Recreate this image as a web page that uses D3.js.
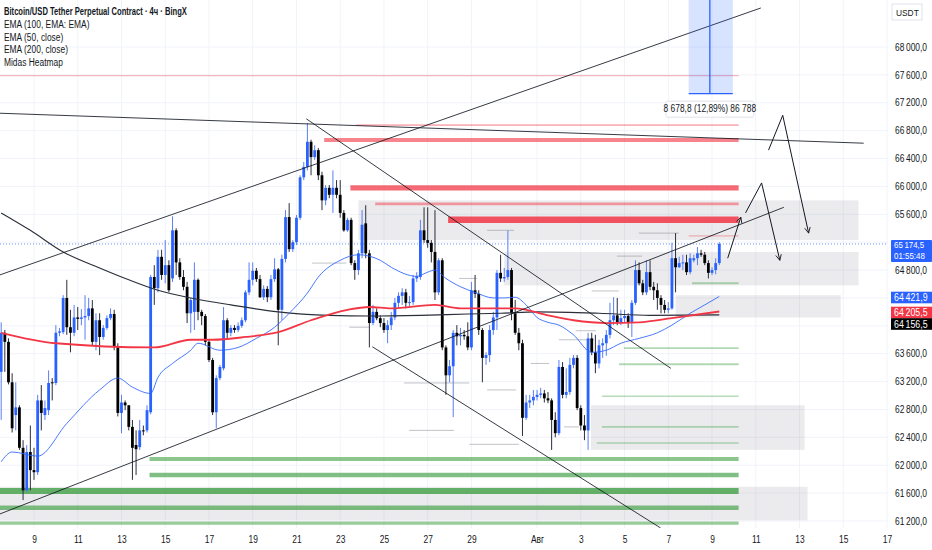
<!DOCTYPE html>
<html><head><meta charset="utf-8">
<script src="https://cdn.jsdelivr.net/npm/d3@7"></script>
<style>
html,body{margin:0;padding:0;background:#fff;overflow:hidden;}
svg{display:block;font-family:"Liberation Sans","DejaVu Sans",sans-serif;}
</style></head><body>
<svg id="chart" width="932" height="550"></svg>
<script>
// ---------------- DATA ----------------
const firstCandle = Date.UTC(2024, 6, 7, 12); // 4h candles
const candleHours = 4;
// [open, high, low, close]
const ohlc = [
[63340,64050,62650,63900],[63900,63940,63340,63770],[63770,63820,63160,63190],[63190,63320,62470,62530],
[62720,63190,62500,62830],[62830,62860,62220,62250],[62250,62360,61500,61640],[61640,62290,61610,62190],
[62190,62570,61640,61930],[61930,62250,61790,61900],[61900,63010,61860,62930],[62930,63150,62500,62750],
[62720,62930,62650,62820],[62790,63360,62720,63180],[63190,63250,62930,63180],[63180,64010,63150,63900],
[63900,63970,63850,63920],[63910,64440,63880,64400],[64400,64660,63870,63980],[63980,64230,63620,63900],
[63900,64300,63850,64120],[64120,64270,63940,64100],[64100,64240,64010,64120],[64120,64440,63800,64140],
[64140,64400,64080,64250],[64250,64370,63720,63770],[63770,64180,63650,64080],[64080,64180,63580,63840],
[63840,64010,63800,63970],[63970,64150,63940,64110],[64110,64250,64080,64170],[64170,64230,63650,63710],
[63710,63750,62700,62750],[62750,63010,62460,62900],[62900,62930,62790,62860],[62860,62860,62500,62550],
[62550,62650,61790,62250],[62290,62500,61860,62230],[62260,62650,62220,62500],[62500,62570,62430,62490],
[62500,62860,62470,62790],[62760,64730,62730,64700],[64700,64870,64300,64540],[64540,65090,64480,64990],
[64990,65090,64660,64730],[64730,65230,64610,64870],[64870,64940,64480,64510],[64680,65570,64630,65370],
[65370,65400,64730,64910],[64910,64970,64660,64700],[64700,64800,64510,64560],[64560,64630,64040,64180],
[64180,64400,63900,64370],[64200,64910,63940,64660],[64660,64680,64080,64200],[64200,64230,64010,64140],
[64140,64170,63720,63770],[63770,63800,63480,63510],[63510,63540,62720,62760],[62760,63290,62530,63250],
[63250,63440,63220,63410],[63390,64270,63360,64080],[64080,64110,63800,63900],[63900,64010,63850,63970],
[63970,64010,63900,63940],[63940,64050,63910,64000],[64000,64120,63970,64080],[64080,64510,64050,64480],
[64480,64910,64440,64660],[64660,64910,64580,64790],[64790,64830,64630,64670],[64670,64730,64400,64410],
[64410,64580,64370,64530],[64530,64570,64340,64410],[64410,64730,64370,64670],[64670,64970,64630,64810],
[64810,64830,63720,64230],[64230,65020,64080,64960],[64960,65660,64910,65560],[65560,65760,65060,65100],
[65100,65230,65060,65200],[65200,65590,65160,65550],[65550,66160,65520,66130],[66130,66350,66090,66280],
[66280,66910,66230,66640],[66640,66670,66160,66420],[66420,66590,66380,66520],[66520,66550,66090,66160],
[66160,66210,65660,65800],[65800,66020,65730,65980],[65980,66020,65830,65880],[65880,66230,65620,65980],
[65980,66090,65830,65880],[65880,66090,65550,65620],[65620,65660,65350,65370],[65370,65550,65350,65520],
[65520,65550,64870,64900],[64900,64940,64660,64800],[64800,65090,64730,65040],[65040,65660,64970,65450],
[65470,65730,64970,65040],[65040,65090,63690,64040],[64040,64300,64010,64200],[64200,64250,64080,64110],
[64110,64150,63980,64040],[64040,64110,63900,63940],[63940,64080,63750,64010],[64010,64200,63940,64120],
[64120,64400,64080,64330],[64330,64480,64250,64430],[64430,64540,64300,64480],[64480,64530,64250,64330],
[64330,64430,64280,64340],[64340,64730,64300,64680],[64680,64770,64630,64710],[64700,65520,64660,65370],
[65370,65700,65190,65230],[65230,65700,65120,65190],[65190,65230,64910,65060],[65060,65660,64370,64480],
[64480,64970,64440,64940],[64940,64970,63650,63690],[63690,63720,63010,63290],[63290,63510,63190,63420],
[63420,63940,62690,63900],[63900,64010,63720,63850],[63850,63970,63720,63870],[63870,63940,63800,63850],
[63850,64050,63650,63690],[63690,64630,63650,64510],[64510,64730,64400,64460],[64460,64510,63870,63940],
[63940,63970,63190,63540],[63540,63620,63440,63580],[63580,64010,63480,63940],[63940,64200,63870,64120],
[64120,64800,63940,64760],[64760,65020,64630,64680],[64680,64830,64630,64700],[64700,65370,64660,64800],
[64800,64830,64080,64180],[64180,64370,63870,63900],[63900,63970,63650,63750],[63750,63800,62420,62680],
[62680,63010,62650,62900],[62900,63010,62820,62930],[62930,63080,62860,62980],[62980,63080,62930,63010],
[63010,63110,62960,63030],[63030,63080,62900,62960],[62960,63050,62890,62930],[62930,62960,62220,62650],
[62650,62760,62400,62460],[62460,63510,62430,63410],[63410,63480,62960,63010],[63010,63390,62960,63050],
[63050,63540,63010,63440],[63440,63580,63390,63540],[63540,63580,62790,62820],[62820,62860,62500,62570],
[62570,62720,62360,62500],[62500,63900,62220,63820],[63820,63900,63580,63620],[63620,63870,63320,63460],
[63460,63800,63390,63720],[63720,63820,63540,63750],[63750,63940,63570,63870],[63870,64330,63820,64080],
[64080,64410,64010,64150],[64150,64400,64010,64050],[64050,64230,64010,64110],[64110,64230,64050,64140],
[64140,64180,63970,64040],[64040,64370,63840,64330],[64330,64940,64300,64800],[64800,64910,64580,64610],
[64610,64660,64440,64480],[64480,64940,64440,64770],[64770,64940,64510,64560],[64560,64630,64370,64510],
[64510,64610,64230,64400],[64400,64440,64180,64300],[64300,64370,64180,64230],[64230,64340,64180,64250],
[64250,65190,64230,64970],[64970,65330,64480,64840],[64840,64990,64830,64900],[64900,65020,64800,64910],
[64910,65020,64730,64770],[64770,65040,64740,64970],[64940,65020,64910,64970],[64970,65130,64870,65040],
[65040,65090,64990,65020],[65020,65060,64870,64900],[64900,64940,64680,64760],[64760,64840,64730,64800],
[64800,64970,64740,64900],[64900,65200,64870,65174.5]
];
// EMA readings [candle index, value]
const ema50 = [[0,62050],[3,62190],[10,62130],[18,62600],[27,63080],[32,63250],[36,63120],[41,63030],[43,63260],
[47,63460],[52,63650],[54,63750],[60,63650],[65,63690],[70,63820],[75,63980],[79,64180],[84,64470],[87,64700],
[93,64940],[98,65020],[104,64940],[107,64840],[114,64710],[117,64770],[119,64800],[122,64680],[126,64560],
[130,64480],[135,64400],[138,64400],[141,64410],[144,64300],[147,64120],[150,64050],[153,64010],[157,63870],
[162,63620],[166,63650],[170,63750],[175,63820],[180,63900],[184,64010],[189,64180],[193,64300],[197,64421.9]];
const ema100 = [[0,65620],[8,65370],[17,65060],[27,64830],[35,64660],[43,64510],[52,64400],[63,64300],
[76,64200],[90,64150],[101,64140],[115,64150],[128,64170],[137,64180],[147,64200],[164,64180],[178,64150],[197,64156.5]];
const ema200 = [[0,63900],[15,63750],[42,63690],[52,63800],[58,63800],[67,63840],[76,63910],[85,64080],
[95,64230],[101,64270],[107,64250],[119,64300],[126,64250],[135,64250],[141,64250],[150,64150],[157,64080],
[166,64040],[175,64050],[184,64110],[197,64205.5]];
const lastPrice = 65174.5;
const countdown = "01:55:48";
// Midas heatmap levels [price, from candle index, strength]
const heatmapEnd = 202.3;
const redLevels = [[67590,-1,1],[66880,97.4,1.3],[66665,88.6,3],[65980,95.8,4],[65750,102.6,2],[65520,122.6,5],[65290,188.6,1]];
const greenLevels = [[64610,189.5,1.5],[63680,170.8,1.5],[63450,169.5,1.5],[62990,164.8,1.2],[62550,164.8,1.2],
[62320,163.4,1.2],[62090,40.7,3],[61860,40.7,3.5],[61630,-1,4.5],[61390,-1,3.5],[61170,-1,2.5]];
// zones [price top, price bottom, from index, to index]
const zones = [[65800,65230,98,235.2],[65060,64580,138,235.2],[64440,64120,185,230.3],[62860,62220,161.8,220.4],[61690,61210,-1,221.2]];
// thin liquidity lines [price, from, to]
const thinLines = [[65330,174.9,185.9],[65370,133.3,140.7],[64680,125.6,130.5],[64900,85.3,94.7],[63980,95.5,101],
[63460,145.3,150.3],[63080,133.3,141.2],[65000,168.9,175.8],[64500,162,169.4],[63800,153,162.6],
[63180,110.5,128.4],[62500,111.9,124.2],[62300,128.4,142],[63930,157.6,163.2],[62550,154.4,158.5]];
// trend lines [[index, price],[index, price]]
const trendLines = [
  [[-0.4,64730],[208.4,68560]],
  [[-0.4,67050],[236.6,66620]],
  [[83.7,66970],[183.7,63390]],
  [[101.8,63700],[180.9,61100]],
  [[-0.4,61300],[214.7,65700]]
];
// forecast arrows (polylines)
const arrows = [
  [[199.3,64970],[202.9,65560]],
  [[204.2,65620],[208.6,66050],[213.6,64940]],
  [[210.5,66520],[214.4,67020],[221.5,65330]]
];
const measure = {from:188.6, to:200.7, mid:194.4, low:67330, high:76000, label:"8 678,8 (12,89%) 86 788"};
const yTicks = [68000,67600,67200,66800,66400,66000,65600,65200,64800,64400,64000,63600,63200,62800,62400,62000,61600,61200];
const xTickDates = ["2024-07-09","2024-07-11","2024-07-13","2024-07-15","2024-07-17","2024-07-19","2024-07-21","2024-07-23",
"2024-07-25","2024-07-27","2024-07-29","2024-08-01","2024-08-03","2024-08-05","2024-08-07","2024-08-09","2024-08-11",
"2024-08-13","2024-08-15","2024-08-17"];
const xTickLabels = ["9","11","13","15","17","19","21","23","25","27","29","Авг","3","5","7","9","11","13","15","17"];
const legendLines = ["EMA (100, EMA: EMA)","EMA (50, close)","EMA (200, close)","Midas Heatmap"];
const title = "Bitcoin/USD Tether Perpetual Contract · 4ч · BingX";
const emaLabels = [{v:64421.9,c:"#2962ff"},{v:64205.5,c:"#f23645"},{v:64156.5,c:"#000000"}];

// ---------------- CHART ----------------
const W = 932, H = 550, plotR = 888, plotB = 528;
const FS = 10;
const svg = d3.select("#chart");
const tAt = i => new Date(firstCandle + i * candleHours * 3600e3);
const x = d3.scaleUtc().domain([Date.UTC(2024,6,9), Date.UTC(2024,7,17)]).range([34, 887]);
const y = d3.scaleLinear().domain([61200, 68000]).range([521, 47]);
const xi = i => x(tAt(i));
const loc = d3.formatLocale({decimal:",", thousands:"\u2009", grouping:[3], currency:["",""]});
const fmt = loc.format(",.1f");
function condense(sel, f){
  sel.each(function(){ const L = this.getComputedTextLength(); if(L>0){ d3.select(this).attr("textLength",L*f).attr("lengthAdjust","spacingAndGlyphs"); } });
}

const defs = svg.append("defs");
defs.append("clipPath").attr("id","clip").append("rect").attr("x",0).attr("y",0).attr("width",plotR).attr("height",plotB);
defs.append("marker").attr("id","ah").attr("viewBox","0 0 10 10").attr("refX",9).attr("refY",5)
  .attr("markerWidth",7).attr("markerHeight",7).attr("orient","auto-start-reverse").attr("markerUnits","userSpaceOnUse")
  .append("path").attr("d","M1,1 L9,5 L1,9").attr("fill","none").attr("stroke","#131722").attr("stroke-width",1.2);

const grid = svg.append("g");
grid.selectAll("line.h").data(yTicks).join("line").attr("x1",0).attr("x2",plotR)
  .attr("y1",d=>y(d)).attr("y2",d=>y(d)).attr("stroke","#f0f3fa").attr("stroke-width",1);
grid.selectAll("line.v").data(xTickDates).join("line").attr("y1",0).attr("y2",plotB)
  .attr("x1",d=>x(new Date(d+"T00:00:00Z"))).attr("x2",d=>x(new Date(d+"T00:00:00Z"))).attr("stroke","#f0f3fa");

const plot = svg.append("g").attr("clip-path","url(#clip)");

// zones
plot.selectAll("rect.zone").data(zones).join("rect")
  .attr("x",d=>xi(d[2])).attr("width",d=>xi(d[3])-xi(d[2]))
  .attr("y",d=>y(d[0])).attr("height",d=>y(d[1])-y(d[0]))
  .attr("fill","#787b86").attr("fill-opacity",0.15);

// heatmap levels
function levels(data, color){
  plot.append("g").selectAll("line").data(data).join("line")
    .attr("x1",d=>xi(d[1])).attr("x2",xi(heatmapEnd)).attr("y1",d=>y(d[0])).attr("y2",d=>y(d[0]))
    .attr("stroke",color).attr("stroke-width",d=>1.3*d[2]).attr("stroke-opacity",d=>Math.min(0.85,0.22+0.13*d[2]));
}
levels(redLevels,"#f23645");
levels(greenLevels,"#43a047");
plot.append("g").selectAll("line").data(thinLines).join("line")
  .attr("x1",d=>xi(d[1])).attr("x2",d=>xi(d[2])).attr("y1",d=>y(d[0])).attr("y2",d=>y(d[0]))
  .attr("stroke","#787b86").attr("stroke-opacity",0.45).attr("stroke-width",1);

// current price line
plot.append("line").attr("x1",0).attr("x2",plotR).attr("y1",y(lastPrice)).attr("y2",y(lastPrice))
  .attr("stroke","#2962ff").attr("stroke-dasharray","1,2").attr("stroke-opacity",0.7);

// candles
const bw = 2.8;
const cg = plot.append("g");
cg.selectAll("line").data(ohlc).join("line")
  .attr("x1",(d,i)=>xi(i)).attr("x2",(d,i)=>xi(i))
  .attr("y1",d=>y(Math.max(d[1],d[0],d[3]))).attr("y2",d=>y(Math.min(d[2],d[0],d[3])))
  .attr("stroke",d=>d[3]>=d[0]?"#5a7ff5":"#2a2e39").attr("stroke-width",1);
cg.selectAll("rect").data(ohlc).join("rect")
  .attr("x",(d,i)=>xi(i)-bw/2).attr("width",bw)
  .attr("y",d=>y(Math.max(d[0],d[3])))
  .attr("height",d=>Math.max(1,Math.abs(y(d[0])-y(d[3]))))
  .attr("fill",d=>d[3]>=d[0]?"#2962ff":"#000000");

// EMAs
const line = d3.line().x(d=>xi(d[0])).y(d=>y(d[1])).curve(d3.curveMonotoneX);
plot.append("path").datum(ema100).attr("d",line).attr("fill","none").attr("stroke","#2a2e39").attr("stroke-width",1.1);
plot.append("path").datum(ema50).attr("d",line).attr("fill","none").attr("stroke","#2962ff").attr("stroke-opacity",0.85).attr("stroke-width",1);
plot.append("path").datum(ema200).attr("d",line).attr("fill","none").attr("stroke","#f23645").attr("stroke-width",1.8);

// trend lines
const pl = d3.line().x(d=>xi(d[0])).y(d=>y(d[1]));
plot.selectAll("path.tl").data(trendLines).join("path").attr("class","tl").attr("d",pl)
  .attr("fill","none").attr("stroke","#131722").attr("stroke-opacity",0.85).attr("stroke-width",1);

// measurement tool
plot.append("rect").attr("x",xi(measure.from)).attr("width",xi(measure.to)-xi(measure.from))
  .attr("y",y(measure.high)).attr("height",y(measure.low)-y(measure.high)).attr("fill","#2962ff").attr("fill-opacity",0.18);
plot.append("line").attr("x1",xi(measure.mid)).attr("x2",xi(measure.mid)).attr("y1",y(measure.high)).attr("y2",y(measure.low))
  .attr("stroke","#2962ff").attr("stroke-width",1.3);
plot.append("line").attr("x1",xi(measure.from)).attr("x2",xi(measure.to)).attr("y1",y(measure.low)).attr("y2",y(measure.low))
  .attr("stroke","#2962ff").attr("stroke-width",1.3);
const mlx = xi(measure.mid), mly = y(measure.low)+15;
plot.append("rect").attr("x",mlx-44).attr("y",mly-7.5).attr("width",88).attr("height",16).attr("rx",2)
  .attr("fill","#ffffff").attr("stroke","#e0e3eb");
const mt = plot.append("text").attr("x",mlx).attr("y",mly+3.5).attr("text-anchor","middle").attr("font-size",FS)
  .attr("fill","#131722").text(measure.label);
condense(mt, 0.84);

// arrows
plot.selectAll("path.ar").data(arrows).join("path").attr("class","ar").attr("d",pl)
  .attr("fill","none").attr("stroke","#131722").attr("stroke-width",1).attr("marker-end","url(#ah)");

// price label boxes on the scale (centres in px)
const cpY = y(lastPrice);
const labY = [297.5, 312.5, 324];
const boxes = [[cpY-4, cpY+18]].concat(labY.map(v=>[v-5.8, v+5.8]));

// axes
const yAxis = svg.append("g").attr("transform",`translate(${plotR+4},0)`)
  .call(d3.axisRight(y).tickValues(yTicks).tickFormat(fmt).tickSize(0).tickPadding(3));
yAxis.select(".domain").remove();
yAxis.selectAll("text").attr("font-size",FS).attr("fill","#131722").attr("font-family",null);
yAxis.selectAll(".tick").filter(d=>boxes.some(b=>y(d)+5>b[0] && y(d)-5<b[1])).remove();
condense(yAxis.selectAll("text"), 0.84);
const xAxis = svg.append("g").attr("transform",`translate(0,${plotB+6})`)
  .call(d3.axisBottom(x).tickValues(xTickDates.map(d=>new Date(d+"T00:00:00Z"))).tickFormat((d,i)=>xTickLabels[i]).tickSize(0).tickPadding(2));
xAxis.select(".domain").remove();
xAxis.selectAll("text").attr("font-size",FS).attr("fill","#131722").attr("font-family",null);
condense(xAxis.selectAll("text"), 0.84);

// right labels
const lbl = svg.append("g");
lbl.append("rect").attr("x",plotR+3).attr("y",cpY-4).attr("width",W-plotR-3).attr("height",22).attr("fill","#2962ff").attr("rx",1);
lbl.append("text").attr("x",plotR+6).attr("y",cpY+4.5).attr("font-size",9).attr("fill","#fff").text(fmt(lastPrice));
lbl.append("text").attr("x",plotR+6).attr("y",cpY+15).attr("font-size",9).attr("fill","#fff").text(countdown);
emaLabels.forEach((e,k)=>{
  lbl.append("rect").attr("x",plotR+3).attr("y",labY[k]-5.8).attr("width",W-plotR-3).attr("height",11.6).attr("fill",e.c);
  lbl.append("text").attr("x",plotR+6).attr("y",labY[k]+3.6).attr("font-size",FS).attr("fill","#fff").text(fmt(e.v));
});
lbl.append("rect").attr("x",plotR+4).attr("y",4).attr("width",30).attr("height",16).attr("fill","#fff").attr("stroke","#e0e3eb");
lbl.append("text").attr("x",plotR+8).attr("y",15.5).attr("font-size",FS-0.5).attr("fill","#131722").text("USDT");
condense(lbl.selectAll("text"), 0.88);

// legend
const lg = svg.append("g").attr("transform","translate(4,0)");
lg.append("text").attr("class","t").attr("y",15).attr("font-size",FS).attr("font-weight","bold").attr("fill","#131722").text(title);
lg.selectAll("text.l").data(legendLines).join("text").attr("class","l").attr("y",(d,i)=>28+i*12.7)
  .attr("font-size",FS).attr("fill","#131722").text(d=>d);
condense(lg.selectAll("text.t"), 0.76);
condense(lg.selectAll("text.l"), 0.84);
</script></body></html>
